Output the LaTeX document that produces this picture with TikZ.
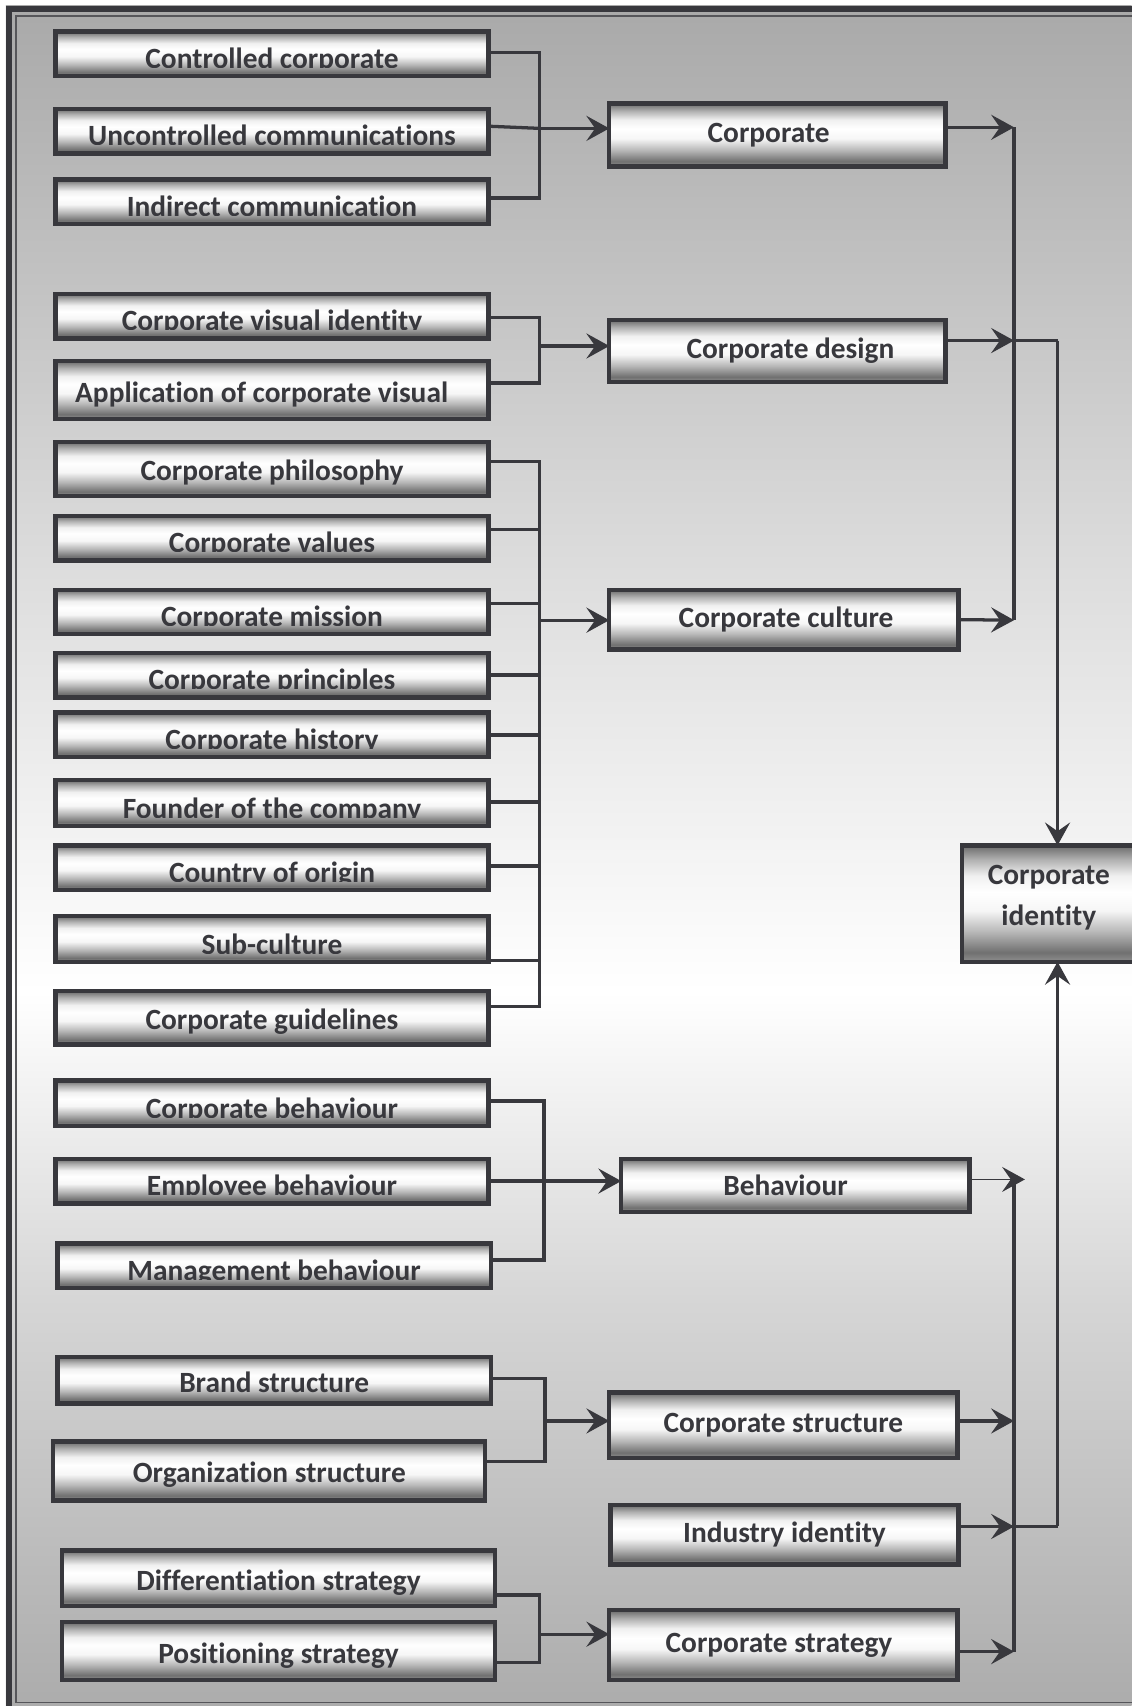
\documentclass[tikz,border=0pt]{standalone}
\usepackage{fontspec}
\setmainfont{Carlito}[Ligatures={NoCommon}]
\usetikzlibrary{arrows.meta}
\definecolor{lc}{HTML}{38383D}
\definecolor{txt}{HTML}{38383D}
\definecolor{m0}{HTML}{909090}
\definecolor{m1}{HTML}{707070}
\definecolor{m2}{HTML}{B8B8B8}
\definecolor{m3}{HTML}{F6F6F6}
\definecolor{m4}{HTML}{F0F0F0}
\definecolor{m5}{HTML}{B0B0B0}
\definecolor{m6}{HTML}{6A6A6A}
\definecolor{g0}{HTML}{ACACAC}
\definecolor{g1}{HTML}{D6D6D6}
\definecolor{g2}{HTML}{DEDEDE}
\definecolor{g3}{HTML}{A9A9A9}
\pgfdeclareverticalshading{metal}{100bp}{color(0bp)=(m0); color(25bp)=(m0); color(29bp)=(m1); color(38bp)=(m2); color(47bp)=(m3); color(55bp)=(white); color(62bp)=(m4); color(69bp)=(m5); color(75bp)=(m6); color(100bp)=(m6)}
\pgfdeclareverticalshading{bgsh}{100bp}{color(0bp)=(g0); color(25bp)=(g0); color(37bp)=(g1); color(46bp)=(white); color(58bp)=(g2); color(75bp)=(g3); color(100bp)=(g3)}
\newcommand\boxfont{\fontsize{27}{30}\selectfont\bfseries}
\newcommand\bx[7][]{\node[box,#1,minimum width={#5-#3-4},minimum height={#6-#4-4}] (#2) at ({(#3+#5)/2},{(#4+#6)/2}) {#7};}
\newcommand\cbx[6]{\node[box,minimum width={#4-#2-4},minimum height={#5-#3-4},
  path picture={\clip ([yshift=8pt]path picture bounding box.south west) rectangle (path picture bounding box.north east);
  \node[anchor=base,font=\boxfont,text=txt,inner sep=0pt] (#1-t) at ([yshift=7pt]path picture bounding box.south) {#6};}]
  (#1) at ({(#2+#4)/2},{(#3+#5)/2}) {};}
\begin{document}
\begin{tikzpicture}[x=1pt,y=-1pt,
  box/.style={draw=lc,line width=4pt,shade,shading=metal,inner sep=0pt,outer sep=0pt,font=\boxfont,text=txt},
  lowtext/.style={text height=22pt,text depth=0pt},
  ln/.style={draw=lc,line width=3pt},
  arr/.style={ln,-{Stealth[length=21pt,width=23pt,inset=8pt]}},
  arrthin/.style={draw=lc,line width=1.2pt,-{Stealth[length=21pt,width=23pt,inset=8pt]}}]
\useasboundingbox (0,0) rectangle (1040,1568);
\fill[white] (0,0) rectangle (1040,1568);
\shade[shading=bgsh] (5.5,5.5) rectangle (1040,1568);
\draw[lc,line width=5.5pt] (8.25,8.25) rectangle (1062,1600);
\draw[lc!85,line width=1.5pt] (14.75,14.75) rectangle (1052,1564.6);

% left column
\cbx{cc}{49}{27}{451}{72}{Controlled corporate}
\cbx{uc}{49}{98}{451}{143}{Uncontrolled communications}
\cbx{ic}{49}{163}{451}{208}{Indirect communication}
\cbx{cvi}{49}{268}{451}{313}{Corporate visual identity}
\bx[lowtext]{acv}{49}{330}{451}{387}{\hspace*{-19pt}Application of corporate visual}
\bx[lowtext]{cph}{49}{404}{451}{458}{Corporate philosophy}
\cbx{cva}{49}{472}{451}{517}{Corporate values}
\cbx{cmi}{49}{540}{451}{585}{Corporate mission}
\cbx{cpr}{49}{598}{451}{643}{Corporate principles}
\cbx{chi}{49}{653}{451}{698}{Corporate history}
\cbx{fou}{49}{715}{451}{761}{Founder of the company}
\cbx{coo}{49}{775}{451}{820}{Country of origin}
\cbx{sub}{49}{840}{451}{886}{Sub-culture}
\bx[lowtext]{cgu}{49}{909}{451}{962}{Corporate guidelines}
\cbx{cbe}{49}{991}{451}{1037}{Corporate behaviour}
\cbx{ebe}{49}{1063}{451}{1108}{Employee behaviour}
\cbx{mbe}{51}{1141}{453}{1186}{Management behaviour}
\bx[lowtext]{bst}{51}{1245}{453}{1292}{Brand structure}
\bx[lowtext]{ost}{47}{1323}{448}{1381}{Organization structure}
\bx[lowtext]{dst}{55}{1423}{457}{1478}{Differentiation strategy}
\bx[lowtext]{pst}{55}{1489}{457}{1546}{Positioning strategy}

% middle column
\bx{cor}{558}{93}{871}{155}{\hspace*{-16pt}Corporate}
\bx{des}{558}{292}{871}{353}{\hspace*{24pt}Corporate design}
\bx{cul}{558}{540}{883}{599}{\hspace*{4pt}Corporate culture}
\bx{beh}{569}{1063}{893}{1116}{\hspace*{-18pt}Behaviour}
\bx{cst}{558}{1278}{882}{1342}{Corporate structure}
\bx{ind}{559}{1381}{883}{1440}{Industry identity}
\bx{cstr}{558}{1478}{882}{1546}{\hspace*{-8pt}Corporate strategy}

% corporate identity
\bx{ci}{882}{775}{1046}{886}{}
\node[font=\boxfont,text=txt,align=center,inner sep=0pt] (ci-t) at (964,825) {Corporate\\[8pt]identity};

% junctions
\coordinate (J1) at (496,118);
\coordinate (J2) at (496,318);
\coordinate (J3) at (496,570);
\coordinate (J4) at (500,1086);
\coordinate (J5) at (501,1306);
\coordinate (J6) at (496,1502);
\coordinate (L1) at (932,117);
\coordinate (L2) at (932,313);
\coordinate (L3) at (932,570);
\coordinate (R2) at (972,313);
\coordinate (L4) at (932,1084);
\coordinate (B4) at (942,1084);
\coordinate (L5) at (932,1306);
\coordinate (L6) at (932,1403);
\coordinate (L7) at (932,1518);
\coordinate (R6) at (972,1403);

% group 1
\draw[ln] ([yshift=1.5pt]cc.east) -| (J1) |- ([yshift=3.5pt]ic.east);
\draw[ln] ([yshift=4.5pt]uc.east) -- (J1);
\draw[arr] (J1) -- (J1 -| cor.west);
% group 2
\draw[ln] ([yshift=-1.5pt]cvi.east) -| (J2) |- ([yshift=6.5pt]acv.east);
\draw[arr] (J2) -- (J2 -| des.west);
% group 3
\draw[ln] ([yshift=7pt]cph.east) -| (J3) |- ([yshift=10.5pt]cgu.east);
\draw[ln] ([yshift=7.5pt]cva.east) -| (J3);
\draw[ln] ([yshift=7.5pt]cmi.east) -| (J3);
\draw[ln] (cpr.east) -| (J3);
\draw[ln] (chi.east) -| (J3);
\draw[ln] ([yshift=1pt]fou.east) -| (J3);
\draw[ln] ([yshift=1.5pt]coo.east) -| (J3);
\draw[ln] ([yshift=-20pt]sub.east) -| (J3);
\draw[arr] (J3) -- (J3 -| cul.west);
% group 4
\draw[ln] ([yshift=2pt]cbe.east) -| (J4) |- ([yshift=5.5pt]mbe.east);
\draw[arr] (ebe.east) -- (ebe.east -| beh.west);
% group 5
\draw[ln] ([yshift=1.5pt]bst.east) -| (J5) |- ([yshift=9pt]ost.east);
\draw[arr] (J5) -- (J5 -| cst.west);
% group 6
\draw[ln] ([yshift=-15.5pt]dst.east) -| (J6) |- ([yshift=-10.5pt]pst.east);
\draw[arr] (J6) -- (J6 -| cstr.west);

% right collectors
\draw[arr] ([yshift=7pt]cor.east) -- (L1);
\draw[arr] ([yshift=9.5pt]des.east) -- (L2);
\draw[arr] (cul.east) -- (L3);
\draw[ln] (L1) -- (L3);
\draw[ln] (L2) -- (R2);
\draw[arr] (R2) -- (R2 |- ci.north);

\draw[arrthin] ([yshift=5.5pt]beh.east) -- (B4);
\draw[arr] ([yshift=4pt]cst.east) -- (L5);
\draw[arr] ([yshift=7.5pt]ind.east) -- (L6);
\draw[arr] ([yshift=-6pt]cstr.east) -- (L7);
\draw[ln] (L4) -- (L7);
\draw[ln] (L6) -- (R6);
\draw[arr] (R6) -- (R6 |- ci.south);
\end{tikzpicture}
\end{document}
